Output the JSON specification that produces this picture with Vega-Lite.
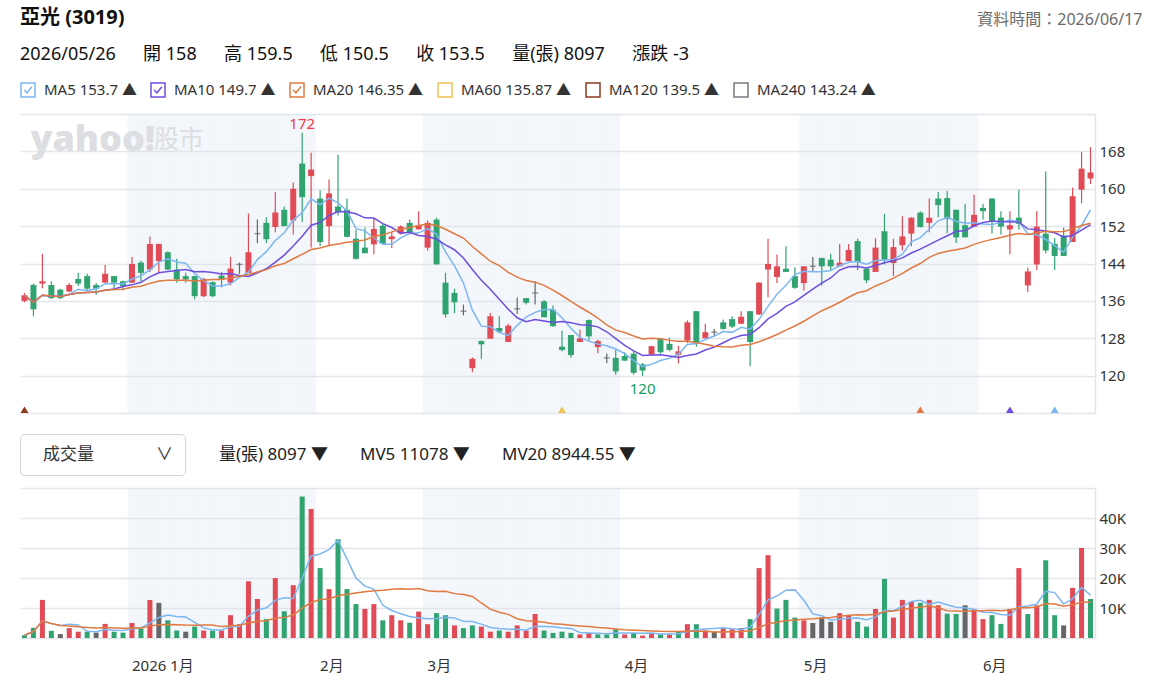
{
"$schema":"https://vega.github.io/schema/vega-lite/v6.json",
"background":"white",
"padding":{"left":19,"top":8,"right":0,"bottom":0},
"config":{"font":"Noto Sans, Noto Sans CJK TC, sans-serif","view":{"stroke":null}},
"title":{"text":"資料時間：2026/06/17","anchor":"end","fontSize":16,"fontWeight":"normal","color":"#6b6b6b","dy":24,"dx":17},
"resolve":{"scale":{"color":"independent","strokeDash":"independent"},"legend":{"color":"independent","strokeDash":"independent"}},
"spacing":12,
"datasets":{
"k":[
{"d":"2025-12-15","o":136.0,"h":137.7,"l":135.7,"c":137.2,"v":900},
{"d":"2025-12-16","o":139.4,"h":139.7,"l":132.7,"c":134.2,"v":3400},
{"d":"2025-12-17","o":139.7,"h":146.1,"l":138.7,"c":140.2,"v":12700},
{"d":"2025-12-18","o":139.4,"h":140.2,"l":136.4,"c":136.6,"v":2400},
{"d":"2025-12-19","o":138.4,"h":138.6,"l":136.4,"c":136.6,"v":1300},
{"d":"2025-12-22","o":138.0,"h":139.8,"l":137.9,"c":139.4,"v":3300},
{"d":"2025-12-23","o":140.7,"h":142.0,"l":139.2,"c":139.7,"v":2100},
{"d":"2025-12-24","o":141.3,"h":141.8,"l":138.2,"c":138.6,"v":2100},
{"d":"2025-12-26","o":139.4,"h":139.8,"l":137.3,"c":138.6,"v":1800},
{"d":"2025-12-29","o":139.9,"h":143.7,"l":139.9,"c":141.8,"v":4700},
{"d":"2025-12-30","o":141.3,"h":141.4,"l":138.2,"c":139.9,"v":2100},
{"d":"2025-12-31","o":140.2,"h":140.3,"l":138.2,"c":139.2,"v":1800},
{"d":"2026-01-02","o":139.9,"h":145.4,"l":139.8,"c":143.9,"v":5000},
{"d":"2026-01-05","o":144.2,"h":144.6,"l":140.2,"c":142.0,"v":3100},
{"d":"2026-01-06","o":142.7,"h":149.8,"l":142.2,"c":148.2,"v":12700},
{"d":"2026-01-07","o":144.5,"h":148.2,"l":142.0,"c":148.2,"v":11700},
{"d":"2026-01-08","o":146.4,"h":146.6,"l":142.6,"c":142.7,"v":5900},
{"d":"2026-01-09","o":142.7,"h":145.0,"l":139.9,"c":140.6,"v":2500},
{"d":"2026-01-12","o":141.3,"h":142.0,"l":139.9,"c":140.6,"v":2100},
{"d":"2026-01-13","o":141.3,"h":141.4,"l":136.3,"c":137.0,"v":3800},
{"d":"2026-01-14","o":137.0,"h":140.9,"l":136.8,"c":140.7,"v":2500},
{"d":"2026-01-15","o":140.0,"h":140.2,"l":136.8,"c":137.0,"v":2500},
{"d":"2026-01-16","o":141.4,"h":142.2,"l":138.9,"c":140.7,"v":2500},
{"d":"2026-01-19","o":139.9,"h":145.4,"l":139.3,"c":142.9,"v":7600},
{"d":"2026-01-20","o":143.8,"h":144.2,"l":141.8,"c":143.8,"v":4600},
{"d":"2026-01-21","o":142.0,"h":154.7,"l":142.0,"c":146.4,"v":18900},
{"d":"2026-01-22","o":150.4,"h":153.4,"l":148.4,"c":150.4,"v":13000},
{"d":"2026-01-23","o":152.7,"h":153.9,"l":148.4,"c":149.2,"v":6300},
{"d":"2026-01-26","o":151.8,"h":159.3,"l":150.7,"c":154.9,"v":20000},
{"d":"2026-01-27","o":155.5,"h":156.2,"l":152.0,"c":152.0,"v":8900},
{"d":"2026-01-28","o":153.2,"h":161.4,"l":150.2,"c":160.0,"v":17600},
{"d":"2026-01-29","o":165.4,"h":172.0,"l":152.9,"c":158.2,"v":47200},
{"d":"2026-01-30","o":162.7,"h":167.7,"l":147.4,"c":164.1,"v":43000},
{"d":"2026-02-02","o":157.9,"h":159.7,"l":147.7,"c":148.6,"v":23300},
{"d":"2026-02-03","o":152.0,"h":162.0,"l":147.9,"c":159.0,"v":16300},
{"d":"2026-02-04","o":156.2,"h":167.3,"l":154.3,"c":155.0,"v":32900},
{"d":"2026-02-05","o":155.5,"h":157.9,"l":149.6,"c":149.7,"v":16300},
{"d":"2026-02-06","o":149.3,"h":151.2,"l":144.8,"c":145.0,"v":11300},
{"d":"2026-02-09","o":147.4,"h":151.7,"l":146.2,"c":146.2,"v":9700},
{"d":"2026-02-10","o":148.1,"h":153.6,"l":146.0,"c":151.4,"v":11300},
{"d":"2026-02-11","o":152.1,"h":152.5,"l":148.2,"c":148.2,"v":5900},
{"d":"2026-02-23","o":149.2,"h":150.7,"l":147.3,"c":149.8,"v":7600},
{"d":"2026-02-24","o":150.4,"h":152.2,"l":150.2,"c":151.9,"v":5900},
{"d":"2026-02-25","o":152.7,"h":153.4,"l":150.6,"c":150.7,"v":5100},
{"d":"2026-02-26","o":151.3,"h":155.2,"l":151.3,"c":152.2,"v":8800},
{"d":"2026-03-02","o":147.4,"h":153.2,"l":146.8,"c":152.7,"v":4600},
{"d":"2026-03-03","o":153.4,"h":153.8,"l":143.8,"c":143.8,"v":8300},
{"d":"2026-03-04","o":139.9,"h":142.0,"l":132.4,"c":133.1,"v":7600},
{"d":"2026-03-05","o":137.7,"h":138.6,"l":133.4,"c":135.7,"v":4200},
{"d":"2026-03-06","o":133.8,"h":135.2,"l":132.9,"c":133.8,"v":3300},
{"d":"2026-03-09","o":121.6,"h":123.9,"l":120.7,"c":123.6,"v":4200},
{"d":"2026-03-10","o":127.4,"h":127.5,"l":123.6,"c":126.7,"v":3800},
{"d":"2026-03-11","o":127.9,"h":133.4,"l":127.9,"c":132.7,"v":2100},
{"d":"2026-03-12","o":130.2,"h":132.7,"l":129.2,"c":129.4,"v":2500},
{"d":"2026-03-13","o":127.2,"h":131.1,"l":127.2,"c":130.7,"v":2100},
{"d":"2026-03-16","o":134.3,"h":136.7,"l":133.2,"c":134.3,"v":4200},
{"d":"2026-03-17","o":136.6,"h":136.6,"l":135.2,"c":135.6,"v":2500},
{"d":"2026-03-18","o":137.7,"h":140.2,"l":135.2,"c":137.7,"v":8000},
{"d":"2026-03-19","o":135.9,"h":136.2,"l":132.5,"c":132.5,"v":2500},
{"d":"2026-03-20","o":134.1,"h":135.0,"l":130.4,"c":130.6,"v":1700},
{"d":"2026-03-23","o":126.2,"h":129.6,"l":125.2,"c":125.5,"v":2100},
{"d":"2026-03-24","o":128.7,"h":128.7,"l":123.8,"c":124.4,"v":1700},
{"d":"2026-03-25","o":127.2,"h":129.8,"l":127.2,"c":128.0,"v":1200},
{"d":"2026-03-26","o":131.9,"h":132.0,"l":127.5,"c":128.4,"v":1700},
{"d":"2026-03-27","o":126.1,"h":127.7,"l":124.8,"c":127.4,"v":1200},
{"d":"2026-03-30","o":123.8,"h":124.7,"l":122.7,"c":123.8,"v":1200},
{"d":"2026-03-31","o":123.8,"h":125.6,"l":120.2,"c":120.9,"v":2900},
{"d":"2026-04-01","o":124.2,"h":125.0,"l":123.2,"c":123.2,"v":1200},
{"d":"2026-04-02","o":124.7,"h":125.2,"l":120.2,"c":120.6,"v":1700},
{"d":"2026-04-07","o":122.4,"h":122.7,"l":120.0,"c":121.1,"v":800},
{"d":"2026-04-08","o":124.5,"h":126.4,"l":124.3,"c":126.3,"v":1700},
{"d":"2026-04-09","o":127.9,"h":128.0,"l":124.7,"c":125.0,"v":1200},
{"d":"2026-04-10","o":126.8,"h":128.1,"l":125.2,"c":125.5,"v":1200},
{"d":"2026-04-13","o":124.5,"h":126.4,"l":122.6,"c":125.2,"v":2100},
{"d":"2026-04-14","o":127.5,"h":131.8,"l":127.0,"c":131.4,"v":4600},
{"d":"2026-04-15","o":133.8,"h":133.8,"l":126.2,"c":127.2,"v":4600},
{"d":"2026-04-16","o":128.0,"h":131.1,"l":128.0,"c":129.3,"v":2500},
{"d":"2026-04-17","o":129.3,"h":130.0,"l":128.4,"c":129.3,"v":2100},
{"d":"2026-04-20","o":131.4,"h":132.0,"l":129.8,"c":130.0,"v":3300},
{"d":"2026-04-21","o":132.1,"h":132.7,"l":130.2,"c":130.5,"v":2900},
{"d":"2026-04-22","o":131.1,"h":133.8,"l":131.0,"c":132.6,"v":3300},
{"d":"2026-04-23","o":133.8,"h":133.8,"l":122.0,"c":127.2,"v":6300},
{"d":"2026-04-24","o":133.1,"h":140.0,"l":133.0,"c":139.9,"v":23300},
{"d":"2026-04-27","o":142.7,"h":149.3,"l":136.8,"c":143.9,"v":27600},
{"d":"2026-04-28","o":141.1,"h":145.9,"l":139.8,"c":143.4,"v":9800},
{"d":"2026-04-29","o":142.9,"h":147.7,"l":142.2,"c":142.2,"v":12700},
{"d":"2026-04-30","o":141.3,"h":143.2,"l":138.6,"c":138.8,"v":6800},
{"d":"2026-05-04","o":139.8,"h":143.4,"l":138.2,"c":143.4,"v":5900},
{"d":"2026-05-05","o":143.4,"h":145.4,"l":142.4,"c":143.4,"v":5000},
{"d":"2026-05-06","o":145.2,"h":145.2,"l":139.3,"c":143.4,"v":6800},
{"d":"2026-05-07","o":144.8,"h":146.1,"l":142.6,"c":143.4,"v":5400},
{"d":"2026-05-08","o":143.4,"h":148.2,"l":143.4,"c":144.2,"v":8300},
{"d":"2026-05-11","o":144.5,"h":148.2,"l":144.5,"c":146.9,"v":7600},
{"d":"2026-05-12","o":148.8,"h":149.3,"l":142.6,"c":144.3,"v":5400},
{"d":"2026-05-13","o":142.9,"h":143.0,"l":139.8,"c":140.4,"v":3800},
{"d":"2026-05-14","o":142.2,"h":149.4,"l":142.2,"c":147.4,"v":9700},
{"d":"2026-05-15","o":150.9,"h":154.6,"l":143.8,"c":144.8,"v":19700},
{"d":"2026-05-18","o":144.1,"h":149.3,"l":141.3,"c":147.5,"v":6800},
{"d":"2026-05-19","o":147.9,"h":154.1,"l":146.8,"c":149.8,"v":12700},
{"d":"2026-05-20","o":150.4,"h":153.9,"l":147.7,"c":153.8,"v":12100},
{"d":"2026-05-21","o":154.9,"h":155.2,"l":151.7,"c":151.8,"v":11700},
{"d":"2026-05-22","o":152.7,"h":157.9,"l":150.7,"c":153.8,"v":12700},
{"d":"2026-05-25","o":157.9,"h":159.3,"l":153.9,"c":156.5,"v":10900},
{"d":"2026-05-26","o":158.0,"h":159.5,"l":150.5,"c":153.5,"v":8097},
{"d":"2026-05-27","o":155.5,"h":155.5,"l":148.4,"c":149.6,"v":8000},
{"d":"2026-05-28","o":152.2,"h":156.8,"l":149.6,"c":149.6,"v":10900},
{"d":"2026-05-29","o":151.9,"h":158.7,"l":151.8,"c":154.4,"v":9700},
{"d":"2026-06-01","o":155.9,"h":156.8,"l":153.4,"c":155.2,"v":6300},
{"d":"2026-06-02","o":157.9,"h":158.0,"l":150.4,"c":152.9,"v":7600},
{"d":"2026-06-03","o":153.8,"h":155.2,"l":150.2,"c":151.9,"v":4700},
{"d":"2026-06-04","o":151.3,"h":155.2,"l":146.0,"c":152.2,"v":9700},
{"d":"2026-06-05","o":153.8,"h":159.8,"l":151.2,"c":152.5,"v":23300},
{"d":"2026-06-08","o":139.3,"h":143.1,"l":137.9,"c":142.3,"v":8000},
{"d":"2026-06-09","o":143.8,"h":155.2,"l":142.6,"c":151.9,"v":10900},
{"d":"2026-06-10","o":150.4,"h":163.7,"l":146.2,"c":146.8,"v":25900},
{"d":"2026-06-11","o":148.2,"h":149.4,"l":142.6,"c":145.6,"v":7600},
{"d":"2026-06-12","o":150.0,"h":151.7,"l":145.6,"c":145.6,"v":4200},
{"d":"2026-06-15","o":148.6,"h":160.2,"l":148.6,"c":158.4,"v":16700},
{"d":"2026-06-16","o":159.8,"h":167.9,"l":156.9,"c":164.3,"v":30000},
{"d":"2026-06-17","o":162.2,"h":168.9,"l":161.0,"c":163.5,"v":13000}
],
"sig":[
{"d":"2025-12-15","ma":"MA120"},
{"d":"2026-03-23","ma":"MA60"},
{"d":"2026-05-21","ma":"MA20"},
{"d":"2026-06-04","ma":"MA10"},
{"d":"2026-06-11","ma":"MA5"}
],
"wm":[{"t":"yahoo!","u":"股市"}]
},
"vconcat":[
{
"width":1075,"height":299,
"title":{"text":"亞光 (3019)","subtitle":"2026/05/26\u3000\u00a0\u00a0開 158\u3000\u00a0\u00a0高 159.5\u3000\u00a0\u00a0低 150.5\u3000\u00a0\u00a0收 153.5\u3000\u00a0\u00a0量(張) 8097\u3000\u00a0\u00a0漲跌 -3","anchor":"start","frame":"group","fontSize":20,"fontWeight":"bold","color":"#111","subtitleFontSize":18,"subtitleColor":"#111","subtitleFontWeight":"normal","subtitlePadding":18,"offset":18},
"layer":[
{"data":{"name":"k"},"transform":[{"filter":"indexof(['01','03','05'], substring(datum.d,5,7)) >= 0"}],
"mark":{"type":"bar","width":{"band":1.5},"fill":"#dce6f1","opacity":0.35},
"encoding":{"x":{"field":"d","type":"ordinal","axis":null,"scale":{"paddingInner":0.33,"paddingOuter":0.165}}}},
{"data":{"name":"wm"},"mark":{"type":"text","align":"left","baseline":"middle","fontSize":36,"fontWeight":900,"color":"#dcdee2","dx":-3},
"encoding":{"x":{"datum":"2025-12-16","type":"ordinal","axis":null},"y":{"datum":170.4,"type":"quantitative","axis":{"title":null}},"text":{"field":"t"}}},
{"data":{"name":"wm"},"mark":{"type":"text","align":"left","baseline":"middle","fontSize":25,"color":"#dcdee2","dx":4},
"encoding":{"x":{"datum":"2026-01-06","type":"ordinal","axis":null},"y":{"datum":170.4,"type":"quantitative","axis":{"title":null}},"text":{"field":"u"}}},
{"data":{"name":"k"},"mark":{"type":"rule","strokeWidth":1.2},
"encoding":{"x":{"field":"d","type":"ordinal","axis":null},
"y":{"field":"l","type":"quantitative","scale":{"domain":[112,176],"nice":false,"zero":false},
"axis":{"title":null,"orient":"right","values":[112,120,128,136,144,152,160,168,176],"tickCount":20,"labelExpr":"datum.value == 112 || datum.value == 176 ? '' : datum.label","grid":true,"gridColor":"#e3e5e9","gridWidth":1.5,"ticks":false,"domain":true,"domainColor":"#e3e5e9","domainWidth":1.5,"labelFontSize":15,"labelColor":"#333","labelPadding":4,"labelOverlap":false}},
"y2":{"field":"h"},
"color":{"condition":[{"test":"datum.c > datum.o","value":"#E04B56"},{"test":"datum.c < datum.o","value":"#30A370"}],"value":"#666666"}}},
{"data":{"name":"k"},"mark":{"type":"bar"},
"encoding":{"x":{"field":"d","type":"ordinal","axis":null},"y":{"field":"o","type":"quantitative","axis":{"title":null}},"y2":{"field":"c"},
"color":{"condition":[{"test":"datum.c > datum.o","value":"#E04B56"},{"test":"datum.c < datum.o","value":"#30A370"}],"value":"#666666"}}},
{"data":{"name":"k"},"transform":[{"filter":"datum.o == datum.c"}],"mark":{"type":"tick","thickness":1.4,"size":6,"color":"#666666"},
"encoding":{"x":{"field":"d","type":"ordinal","axis":null},"y":{"field":"c","type":"quantitative","axis":{"title":null}}}},
{"data":{"name":"k"},"transform":[
{"window":[{"op":"mean","field":"c","as":"MA5"}],"frame":[-4,0],"sort":[{"field":"d"}]},
{"window":[{"op":"mean","field":"c","as":"MA10"}],"frame":[-9,0],"sort":[{"field":"d"}]},
{"window":[{"op":"mean","field":"c","as":"MA20"}],"frame":[-19,0],"sort":[{"field":"d"}]},
{"fold":["MA5","MA10","MA20"],"as":["ma","val"]}],
"mark":{"type":"line","strokeWidth":1.5},
"encoding":{"x":{"field":"d","type":"ordinal","axis":null},"y":{"field":"val","type":"quantitative","axis":{"title":null}},
"color":{"field":"ma","type":"nominal","scale":{"domain":["MA5","MA10","MA20","MA60","MA120","MA240"],"range":["#7CB7F2","#6F4EDE","#E07A40","#F0C453","#8E3B1F","#767B84"]},
"legend":{"orient":"top","direction":"horizontal","title":null,"offset":14,"padding":0,
"symbolType":{"expr":"indexof(['MA5','MA10','MA20'], datum.label) >= 0 ? 'M-1,-1H1V1H-1Z M-0.55,0L-0.15,0.4L0.55,-0.45' : 'M-1,-1H1V1H-1Z'"},
"symbolSize":196,"symbolStrokeWidth":1.5,"labelFontSize":15,"labelColor":"#333","labelOffset":8,"columnPadding":11,"labelLimit":300,
"labelExpr":"datum.label == 'MA5' ? 'MA5 153.7 ▲' : datum.label == 'MA10' ? 'MA10 149.7 ▲' : datum.label == 'MA20' ? 'MA20 146.35 ▲' : datum.label == 'MA60' ? 'MA60 135.87 ▲' : datum.label == 'MA120' ? 'MA120 139.5 ▲' : 'MA240 143.24 ▲'"}}}},
{"data":{"name":"sig"},"mark":{"type":"point","filled":true,"shape":"M-1,0L1,0L0,-1.6Z","size":64,"opacity":1},
"encoding":{"x":{"field":"d","type":"ordinal","axis":null},"y":{"datum":112,"type":"quantitative","axis":{"title":null}},
"fill":{"field":"ma","type":"nominal","legend":null,"scale":{"domain":["MA5","MA10","MA20","MA60","MA120","MA240"],"range":["#7CB7F2","#6F4EDE","#E07A40","#F0C453","#8E3B1F","#767B84"]}}}},
{"data":{"name":"k"},"transform":[{"joinaggregate":[{"op":"max","field":"h","as":"mx"}]},{"filter":"datum.h == datum.mx"}],
"mark":{"type":"text","baseline":"bottom","dy":-1,"fontSize":15,"color":"#F03A47"},
"encoding":{"x":{"field":"d","type":"ordinal","axis":null},"y":{"field":"h","type":"quantitative","axis":{"title":null}},"text":{"field":"h","type":"quantitative","format":".0f"}}},
{"data":{"name":"k"},"transform":[{"joinaggregate":[{"op":"min","field":"l","as":"mn"}]},{"filter":"datum.l == datum.mn"}],
"mark":{"type":"text","baseline":"top","dy":6,"fontSize":15,"color":"#14A060"},
"encoding":{"x":{"field":"d","type":"ordinal","axis":null},"y":{"field":"l","type":"quantitative","axis":{"title":null}},"text":{"field":"l","type":"quantitative","format":".0f"}}}
]
},
{
"width":1075,"height":150,
"layer":[
{"data":{"name":"k"},"transform":[{"filter":"indexof(['01','03','05'], substring(datum.d,5,7)) >= 0"}],
"mark":{"type":"bar","width":{"band":1.8},"fill":"#dce6f1","opacity":0.35},
"encoding":{"x":{"field":"d","type":"ordinal","scale":{"paddingInner":0.44,"paddingOuter":0.22},
"axis":{"title":null,"orient":"bottom","values":["2026-01-02","2026-02-02","2026-03-02","2026-04-01","2026-05-04","2026-06-01"],
"labelExpr":"datum.value == '2026-01-02' ? '2026 1月' : datum.value == '2026-02-02' ? '2月' : datum.value == '2026-03-02' ? '3月' : datum.value == '2026-04-01' ? '4月' : datum.value == '2026-05-04' ? '5月' : '6月'",
"labelAlign":"left","labelAngle":0,"ticks":false,"domain":false,"grid":false,"labelFontSize":15,"labelColor":"#333","labelPadding":20}}}},
{"data":{"name":"k"},"transform":[{"window":[{"op":"lag","field":"c","as":"pc"}],"sort":[{"field":"d"}]}],
"mark":{"type":"bar"},
"encoding":{"x":{"field":"d","type":"ordinal","axis":{"title":null}},
"y":{"field":"v","type":"quantitative","scale":{"domain":[0,50000],"nice":false},
"axis":{"title":null,"orient":"right","values":[0,10000,20000,30000,40000,50000],"tickCount":20,"labelExpr":"datum.value == 0 || datum.value == 50000 ? '' : (datum.value/1000) + 'K'","grid":true,"gridColor":"#e3e5e9","gridWidth":1.5,"ticks":false,"domain":true,"domainColor":"#e3e5e9","domainWidth":1.5,"labelFontSize":15,"labelColor":"#333","labelPadding":4,"labelOverlap":false}},
"strokeDash":{"datum":"成交量","type":"nominal","scale":{"domain":["成交量"],"range":[[1,0]]},
"legend":{"orient":"none","legendX":0,"legendY":-54,"title":null,"padding":12,"strokeColor":"#d3d6db","cornerRadius":4,
"symbolOpacity":0,"symbolSize":0,"labelOffset":-6,"labelFontSize":17,"labelColor":"#333","labelLimit":400,
"labelExpr":"'成交量\u00a0\u00a0\u00a0\u00a0\u00a0\u00a0\u00a0\u00a0\u00a0\u00a0\u00a0\u00a0\u00a0\u00a0∨\u00a0'"}},
"color":{"condition":[{"test":"datum.pc == null || datum.c < datum.pc","value":"#30A370"},{"test":"datum.c > datum.pc","value":"#E04B56"}],"value":"#666666"}}},
{"data":{"name":"k"},"transform":[
{"window":[{"op":"mean","field":"v","as":"MV5"}],"frame":[-4,0],"sort":[{"field":"d"}]},
{"window":[{"op":"mean","field":"v","as":"MV20"}],"frame":[-19,0],"sort":[{"field":"d"}]},
{"fold":["MV5","MV20"],"as":["mv","val"]}],
"mark":{"type":"line","strokeWidth":1.5},
"encoding":{"x":{"field":"d","type":"ordinal","axis":{"title":null}},"y":{"field":"val","type":"quantitative","axis":{"title":null}},
"color":{"field":"mv","type":"nominal","scale":{"domain":["量(張)","MV5","MV20"],"range":["#333333","#7CB7F2","#E07A40"]},
"legend":{"orient":"none","legendX":182,"legendY":-42,"direction":"horizontal","title":null,
"padding":0,"symbolOpacity":0,"symbolSize":0,"labelOffset":0,"labelFontSize":17,"labelColor":"#222","columnPadding":15,"labelLimit":300,
"labelExpr":"datum.label == '量(張)' ? '量(張) 8097 ▼' : datum.label == 'MV5' ? 'MV5 11078 ▼' : 'MV20 8944.55 ▼'"}}}}
]
}
]
}
